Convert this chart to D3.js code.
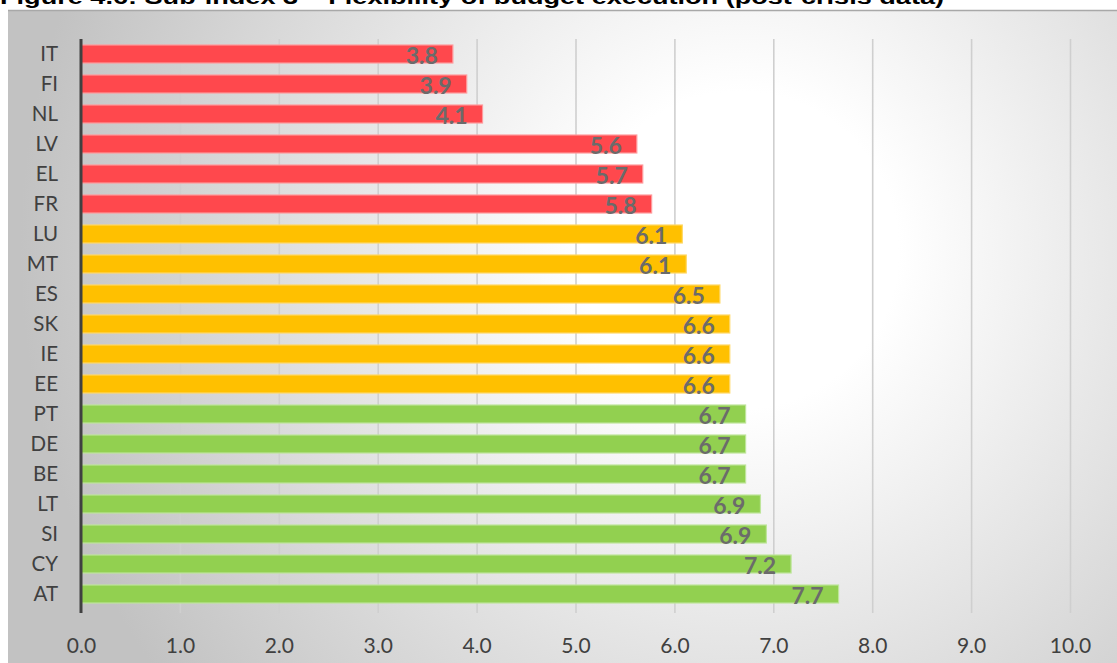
<!DOCTYPE html>
<html>
<head>
<meta charset="utf-8">
<script src="https://cdn.jsdelivr.net/npm/d3@7"></script>
<style>
  html, body { margin: 0; padding: 0; background: #ffffff; }
  svg { display: block; }
</style>
</head>
<body>
<svg id="chart" width="1117" height="663"></svg>
<script>
// Country codes, top to bottom
const countries = ["IT", "FI", "NL", "LV", "EL", "FR", "LU", "MT", "ES", "SK", "IE", "EE",
                   "PT", "DE", "BE", "LT", "SI", "CY", "AT"];
// Sub-index 3 scores
const scores = [3.76, 3.90, 4.06, 5.62, 5.68, 5.77, 6.08, 6.12, 6.46, 6.56, 6.56, 6.56,
                6.72, 6.72, 6.72, 6.87, 6.93, 7.18, 7.66];
// Performance tier of each country
const tiers = ["low", "low", "low", "low", "low", "low", "mid", "mid", "mid", "mid", "mid", "mid",
               "high", "high", "high", "high", "high", "high", "high"];
const tickValues = [0, 1, 2, 3, 4, 5, 6, 7, 8, 9, 10];
const title = "Figure 4.6: Sub-index 3 \u2013 Flexibility of budget execution (post-crisis data)";

const tierFill = { low: "#FF484D", mid: "#FFC000", high: "#92D050" };
const tierStroke = { low: "#FF9A9C", mid: "#FFD866", high: "#BEE59A" };

const svg = d3.select("#chart");
const W = 1117, H = 663;

const defs = svg.append("defs");
const bg = defs.append("radialGradient")
  .attr("id", "bgGrad")
  .attr("gradientUnits", "userSpaceOnUse")
  .attr("cx", 740).attr("cy", 250).attr("r", 720);
bg.append("stop").attr("offset", 0).attr("stop-color", "#ffffff");
bg.append("stop").attr("offset", 0.22).attr("stop-color", "#ffffff");
bg.append("stop").attr("offset", 1).attr("stop-color", "#c2c2c2");

const gridGrad = defs.append("linearGradient")
  .attr("id", "gridGrad")
  .attr("gradientUnits", "userSpaceOnUse")
  .attr("x1", 0).attr("y1", 39).attr("x2", 0).attr("y2", 613);
gridGrad.append("stop").attr("offset", 0).attr("stop-color", "#cfcfcf");
gridGrad.append("stop").attr("offset", 1).attr("stop-color", "#808080");

// Chart background panel
svg.append("rect")
  .attr("x", 8).attr("y", 10).attr("width", W - 8).attr("height", H - 10)
  .attr("fill", "url(#bgGrad)");
svg.append("line")
  .attr("x1", 8).attr("x2", W).attr("y1", 10.5).attr("y2", 10.5)
  .attr("stroke", "#a8a8a8").attr("stroke-width", 1.5);

// Title (runs along the top edge of the page)
svg.append("text")
  .attr("x", 0).attr("y", 4)
  .attr("font-family", "Liberation Sans, Arial, sans-serif")
  .attr("font-weight", "bold")
  .attr("font-size", 20)
  .attr("fill", "#000")
  .attr("textLength", 944)
  .attr("lengthAdjust", "spacingAndGlyphs")
  .text(title);

const x = d3.scaleLinear().domain([0, 10]).range([81, 1070]);
const y = d3.scaleBand().domain(countries).range([39, 609]).paddingInner(0.4).paddingOuter(0.2);

const plotTop = 39, plotBottom = 613;

// Vertical gridlines
const grid = svg.append("g")
  .attr("transform", `translate(0,${plotBottom})`)
  .call(d3.axisBottom(x).tickValues(tickValues.slice(1)).tickSize(-(plotBottom - plotTop)).tickFormat(""));
grid.select(".domain").remove();
grid.selectAll(".tick line")
  .attr("stroke", "url(#gridGrad)")
  .attr("stroke-width", 1.6);

// Bars
const data = countries.map((c, i) => ({ c, v: scores[i], t: tiers[i] }));
svg.append("g").selectAll("rect")
  .data(data)
  .join("rect")
  .attr("x", x(0))
  .attr("y", d => y(d.c))
  .attr("width", d => x(d.v) - x(0))
  .attr("height", y.bandwidth())
  .attr("fill", d => tierFill[d.t])
  .attr("stroke", d => tierStroke[d.t])
  .attr("stroke-width", 1.2);

// Value labels inside bar ends
const fmt = d3.format(".1f");
svg.append("g").selectAll("text")
  .data(data)
  .join("text")
  .attr("x", d => x(d.v) - 15)
  .attr("y", d => y(d.c) + y.bandwidth() / 2 + 9.5)
  .attr("text-anchor", "end")
  .attr("font-family", "Lato, 'Open Sans', sans-serif")
  .attr("font-weight", "bold")
  .attr("font-size", 23)
  .attr("fill", "#6b6b6b")
  .text(d => fmt(d.v));

// Category axis
const yAxis = svg.append("g")
  .attr("transform", "translate(81,0)")
  .call(d3.axisLeft(y).tickSize(0).tickPadding(23));
yAxis.select(".domain").remove();
yAxis.selectAll(".tick text")
  .attr("font-family", "Lato, 'Open Sans', sans-serif")
  .attr("font-size", 20.5)
  .attr("fill", "#404040")
  .attr("dy", "0.35em");
svg.append("line")
  .attr("x1", 81).attr("x2", 81).attr("y1", plotTop).attr("y2", plotBottom)
  .attr("stroke", "#404040").attr("stroke-width", 3);

// Value axis labels
const xAxis = svg.append("g")
  .attr("transform", `translate(0,${plotBottom})`)
  .call(d3.axisBottom(x).tickValues(tickValues).tickSize(0).tickPadding(25).tickFormat(fmt));
xAxis.select(".domain").remove();
xAxis.selectAll(".tick text")
  .attr("font-family", "Lato, 'Open Sans', sans-serif")
  .attr("font-size", 21)
  .attr("fill", "#404040");
</script>
</body>
</html>
